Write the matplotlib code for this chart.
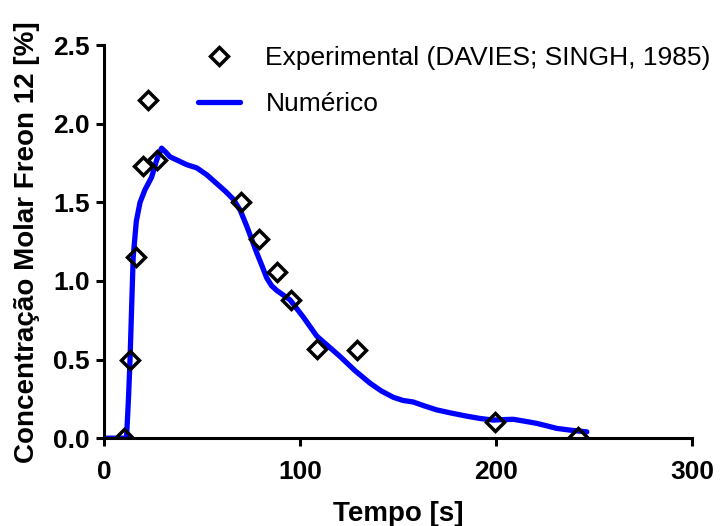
import matplotlib
matplotlib.use("Agg")
import matplotlib.pyplot as plt

plt.rcParams['font.family'] = ['Liberation Sans', 'DejaVu Sans']

exp_t = [10.2, 13.3, 16.3, 19.9, 22.4, 27.0, 70.0, 79.0, 88.3, 95.4, 108.7, 129.0, 199.5, 241.8]
exp_c = [0.00, 0.50, 1.15, 1.73, 2.15, 1.77, 1.50, 1.27, 1.06, 0.88, 0.57, 0.56, 0.10, 0.01]

num_t = [0, 5, 10, 11.5, 12.5, 13.3, 14.9, 16.5, 18.4, 20.9, 24.3, 26.9, 29.4, 31.5, 33.7, 38.0, 42.2, 47.3,
         52.5, 57.5, 62.0, 66.0, 69.5, 72.8, 75.5, 77.9, 80.5, 83.0, 85.5, 88.1, 91.5, 94.9, 101.7, 108.5,
         120.4, 128.0, 135.7, 141.5, 147.6, 152.5, 157.8, 163.5, 169.7, 177.0, 185.0, 192.0, 198.6, 203.5,
         208.8, 214.5, 220.8, 226.0, 231.0, 238.5, 246.3]
num_c = [0.0, 0.0, 0.0, 0.0, 0.25, 0.50, 1.15, 1.38, 1.50, 1.58, 1.66, 1.77, 1.845, 1.82, 1.79, 1.765, 1.74, 1.72,
         1.675, 1.62, 1.57, 1.52, 1.45, 1.35, 1.26, 1.18, 1.10, 1.02, 0.97, 0.94, 0.91, 0.88, 0.77, 0.65,
         0.52, 0.43, 0.35, 0.30, 0.26, 0.24, 0.23, 0.205, 0.18, 0.16, 0.14, 0.125, 0.115, 0.118,
         0.12, 0.108, 0.094, 0.078, 0.062, 0.05, 0.04]

fig = plt.figure(figsize=(7.27, 5.26), dpi=100)
ax = fig.add_axes([0.143, 0.167, 0.809, 0.747])

ax.plot(num_t, num_c, color='#0000ff', lw=3.8, label='Numérico', zorder=2,
        solid_joinstyle='round', solid_capstyle='round')
ax.plot(exp_t, exp_c, linestyle='none', marker='D', markersize=9, markerfacecolor='none',
        markeredgecolor='black', markeredgewidth=2.5, label='Experimental (DAVIES; SINGH, 1985)', zorder=3)

ax.set_xlim(0, 300)
ax.set_ylim(0, 2.5)
ax.set_xticks([0, 100, 200, 300])
ax.set_yticks([0.0, 0.5, 1.0, 1.5, 2.0, 2.5])
ax.set_yticklabels(['0.0', '0.5', '1.0', '1.5', '2.0', '2.5'])

for s in ['top', 'right']:
    ax.spines[s].set_visible(False)
for s in ['left', 'bottom']:
    ax.spines[s].set_linewidth(2.2)
ax.tick_params(direction='out', length=6, width=2.2, labelsize=19)
ax.tick_params(axis='x', pad=10)
ax.tick_params(axis='y', pad=4)
for lab in ax.get_xticklabels() + ax.get_yticklabels():
    lab.set_fontweight('bold')

ax.set_xlabel('Tempo [s]', fontsize=20, fontweight='bold', labelpad=12)
ax.set_ylabel('Concentração Molar Freon 12 [%]', fontsize=20, fontweight='bold', labelpad=10)

handles, labels = ax.get_legend_handles_labels()
leg = fig.legend(handles[::-1], labels[::-1], loc='upper left', bbox_to_anchor=(0.258, 0.933),
                 bbox_transform=fig.transFigure, borderaxespad=0,
                 frameon=False, fontsize=19, handlelength=1.6, handletextpad=0.95, labelspacing=0.85)

fig.savefig('out.png', dpi=100)
